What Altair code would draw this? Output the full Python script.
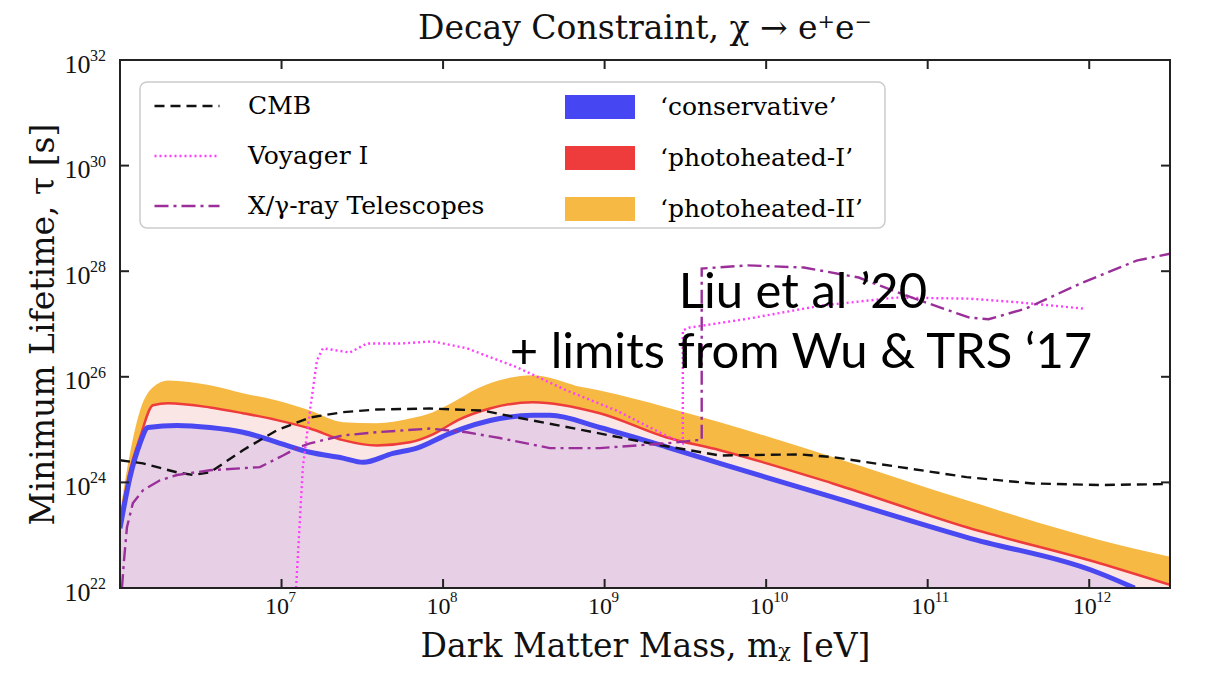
import altair as alt
import pandas as pd
import math

# ---- data (log10 of mass in eV, log10 of lifetime in s) ----
blue_lm = [6.0, 6.062, 6.124, 6.173, 6.353, 6.557, 6.761, 6.972, 7.176, 7.38, 7.504, 7.689, 7.838,
           8.042, 8.351, 8.556, 8.661, 8.97, 9.385, 9.713, 10.412, 11.241, 12.064, 12.281]
blue_lt = [23.13, 24.10, 24.74, 25.04, 25.08, 25.04, 24.95, 24.76, 24.57, 24.46, 24.38, 24.55, 24.65,
           24.93, 25.21, 25.27, 25.27, 25.04, 24.67, 24.36, 23.72, 22.96, 22.28, 22.0]

red_lm = [6.0, 6.062, 6.124, 6.204, 6.297, 6.557, 6.761, 6.972, 7.176, 7.38, 7.59, 7.795, 7.937,
          8.092, 8.29, 8.556, 8.97, 9.385, 9.713, 10.412, 11.241, 12.064, 12.5]
red_lt = [23.25, 24.23, 24.85, 25.46, 25.50, 25.42, 25.31, 25.18, 25.02, 24.80, 24.70, 24.76, 24.91,
          25.18, 25.40, 25.52, 25.31, 24.85, 24.61, 23.98, 23.15, 22.47, 22.06]

orange_lm = [6.0, 6.062, 6.124, 6.204, 6.297, 6.557, 6.761, 6.972, 7.176, 7.38, 7.59, 7.795, 7.937,
             8.08, 8.2, 8.333, 8.556, 8.865, 8.97, 9.385, 9.713, 10.412, 11.241, 12.064, 12.5]
orange_lt = [23.42, 24.55, 25.36, 25.80, 25.93, 25.84, 25.69, 25.55, 25.36, 25.14, 25.12, 25.21, 25.33,
             25.55, 25.76, 25.92, 26.03, 25.80, 25.74, 25.42, 25.14, 24.48, 23.66, 22.91, 22.59]

cmb_lm = [6.0, 6.142, 6.353, 6.452, 6.557, 6.761, 6.972, 7.176, 7.38, 7.59, 7.918, 8.246, 8.457,
          8.865, 9.28, 9.713, 10.208, 10.412, 10.827, 11.241, 11.65, 12.064, 12.5]
cmb_lt = [24.42, 24.36, 24.19, 24.14, 24.19, 24.61, 24.99, 25.23, 25.33, 25.38, 25.40, 25.36, 25.23,
          24.99, 24.74, 24.51, 24.53, 24.48, 24.29, 24.10, 23.98, 23.95, 23.97]

voy_lm = [7.09, 7.132, 7.176, 7.219, 7.256, 7.423, 7.528, 7.733, 7.937, 8.147, 8.457, 8.766, 9.075,
          9.28, 9.465, 9.484, 9.484, 9.521, 9.886, 10.344, 10.802, 11.26, 11.563, 11.971]
voy_lt = [22.0, 24.29, 25.36, 26.31, 26.54, 26.46, 26.63, 26.63, 26.67, 26.54, 26.18, 25.74, 25.36,
          25.04, 24.76, 24.74, 26.88, 26.93, 27.10, 27.35, 27.50, 27.48, 27.41, 27.29]

xray_lm = [6.012, 6.025, 6.043, 6.08, 6.142, 6.248, 6.353, 6.557, 6.761, 6.866, 7.009, 7.095, 7.176,
           7.38, 7.59, 7.918, 8.147, 8.351, 8.661, 8.97, 9.385, 9.571, 9.601, 9.601, 9.886, 10.233,
           10.573, 10.92, 11.26, 11.377, 11.606, 11.947, 12.293, 12.5]
xray_lt = [22.0, 22.53, 23.15, 23.61, 23.85, 24.04, 24.14, 24.23, 24.27, 24.29, 24.51, 24.65, 24.74,
           24.89, 24.95, 25.02, 24.95, 24.84, 24.65, 24.65, 24.74, 24.80, 24.80, 28.05, 28.11, 28.07,
           27.88, 27.48, 27.12, 27.09, 27.29, 27.77, 28.20, 28.33]

x_ticks = [1e7, 1e8, 1e9, 1e10, 1e11, 1e12]
y_ticks = [1e22, 1e24, 1e26, 1e28, 1e30, 1e32]

line_names = ["CMB", "Voyager I", "X/\u03b3-ray Telescopes"]
band_names = ["\u2018conservative\u2019", "\u2018photoheated-I\u2019", "\u2018photoheated-II\u2019"]

W, H = 1050, 528
SERIF = "Liberation Serif"
WSERIF = "DejaVu Serif"

def curve(lm, lt, **extra):
    df = pd.DataFrame({"m": [10 ** v for v in lm], "tau": [10 ** v for v in lt]})
    df["i"] = range(len(df))
    df["base"] = 1e22
    for k, v in extra.items():
        df[k] = v
    return df

XS = alt.Scale(type="log", domain=[1e6, 10 ** 12.5], nice=False)
YS = alt.Scale(type="log", domain=[1e22, 1e32], nice=False)

XA = alt.Axis(values=x_ticks, labelExpr="'10'", title="Dark Matter Mass, m\u1d6a [eV]",
              labelPadding=6, labelOffset=-5, labelFontSize=24, titlePadding=12, labelFlush=False)
YA = alt.Axis(values=y_ticks, labelExpr="'10'", title="Minimum Lifetime, \u03c4 [s]",
              labelPadding=30, labelOffset=4, labelFontSize=26, titlePadding=4, labelFlush=False)

def X(f):
    return alt.X(f, type="quantitative", scale=XS, axis=XA)

def Y(f):
    return alt.Y(f, type="quantitative", scale=YS, axis=YA)

FILL = alt.Fill("band:N",
                scale=alt.Scale(domain=band_names + ["below", "between"],
                                range=["#4646f2", "#ee3b3b", "#f5b944", "#e7d0e6", "#fbe6e6"]),
                legend=alt.Legend(values=band_names, title=None, orient="none", legendX=445, legendY=12,
                                  symbolType="M-1,-0.343H1V0.343H-1Z", symbolSize=4900,
                                  symbolStrokeWidth=0, symbolOpacity=1, labelFont=WSERIF,
                                  labelFontSize=25, labelOffset=25, rowPadding=3, labelLimit=500))

SMOOTH = "monotone"
area_orange = alt.Chart(curve(orange_lm, orange_lt, band=band_names[2])).mark_area(
    clip=True, interpolate=SMOOTH).encode(x=X("m"), y=Y("tau"), y2="base", fill=FILL)
area_pink = alt.Chart(curve(red_lm, red_lt, band="between")).mark_area(
    clip=True, interpolate=SMOOTH).encode(x=X("m"), y=Y("tau"), y2="base", fill=FILL)
area_lav = alt.Chart(curve(blue_lm, blue_lt, band="below")).mark_area(
    clip=True, interpolate=SMOOTH).encode(x=X("m"), y=Y("tau"), y2="base", fill=FILL)

red_line = alt.Chart(curve(red_lm, red_lt)).mark_line(
    clip=True, color="#ee3b3b", strokeWidth=2.5, interpolate=SMOOTH).encode(x=X("m"), y=Y("tau"), order="i:Q")
blue_line = alt.Chart(curve(blue_lm, blue_lt)).mark_line(
    clip=True, color="#4a48f0", strokeWidth=5, interpolate=SMOOTH).encode(x=X("m"), y=Y("tau"), order="i:Q")

lines_df = pd.concat([
    curve(cmb_lm, cmb_lt, series=line_names[0]),
    curve(voy_lm, voy_lt, series=line_names[1]),
    curve(xray_lm, xray_lt, series=line_names[2]),
], ignore_index=True)

LEG_LINES = alt.Legend(title=None, orient="none", legendX=33, legendY=12, symbolType="stroke",
                       symbolSize=4225, symbolStrokeWidth=2.4, labelFont=WSERIF, labelFontSize=25,
                       labelOffset=27, rowPadding=3, labelLimit=500)

other_lines = alt.Chart(lines_df).mark_line(clip=True, strokeWidth=2.4).encode(
    x=X("m"), y=Y("tau"), order="i:Q",
    color=alt.Color("series:N", scale=alt.Scale(domain=line_names, range=["#111111", "#ff3dff", "#9a2f9a"]),
                    legend=LEG_LINES),
    strokeDash=alt.StrokeDash("series:N", scale=alt.Scale(domain=line_names,
                              range=[[10, 6], [2, 3], [14, 5, 3, 5]]), legend=LEG_LINES),
    detail="series:N",
)

xt = pd.DataFrame({"v": x_ticks, "e": [str(round(math.log10(v))) for v in x_ticks]})
yt = pd.DataFrame({"v": y_ticks, "e": [str(round(math.log10(v))) for v in y_ticks]})
TK = dict(color="#222222", strokeWidth=2)
tick_b = alt.Chart(xt).mark_rule(**TK).encode(x=X("v"), y=alt.value(H), y2=alt.value(H - 9))
tick_t = alt.Chart(xt).mark_rule(**TK).encode(x=X("v"), y=alt.value(0), y2=alt.value(9))
tick_l = alt.Chart(yt).mark_rule(**TK).encode(y=Y("v"), x=alt.value(0), x2=alt.value(9))
tick_r = alt.Chart(yt).mark_rule(**TK).encode(y=Y("v"), x=alt.value(W), x2=alt.value(W - 9))

# exponents of the tick labels (10^n)
exp_x = alt.Chart(xt).mark_text(font=SERIF, fontSize=15, align="left", baseline="top", dx=7,
                                color="#111111").encode(x=X("v"), y=alt.value(H + 2), text="e:N")
exp_y = alt.Chart(yt).mark_text(font=SERIF, fontSize=16, align="left", baseline="middle", dy=-4,
                                color="#111111").encode(y=Y("v"), x=alt.value(-30), text="e:N")

one = pd.DataFrame({"a": [0]})
legend_box = alt.Chart(one).mark_rect(fill="white", stroke="#cccccc", strokeWidth=1.5, cornerRadius=7).encode(
    x=alt.value(20), x2=alt.value(765), y=alt.value(22), y2=alt.value(168))
frame = alt.Chart(one).mark_rect(filled=False, stroke="#222222", strokeWidth=2).encode(
    x=alt.value(0), x2=alt.value(W), y=alt.value(0), y2=alt.value(H))

note1 = alt.Chart(one).mark_text(text="Liu et al \u201920", font="Lato", fontSize=49, align="center",
                                 baseline="alphabetic", color="black").encode(x=alt.value(683), y=alt.value(248))
note2 = alt.Chart(one).mark_text(text="+ limits from Wu & TRS \u201817", font="Lato", fontSize=49,
                                 align="center", baseline="alphabetic", color="black").encode(
    x=alt.value(681), y=alt.value(308))

chart = alt.layer(
    area_orange, area_pink, area_lav, red_line, blue_line, other_lines,
    tick_b, tick_t, tick_l, tick_r, exp_x, exp_y, legend_box, frame, note1, note2,
).properties(
    width=W, height=H,
    autosize=alt.AutoSizeParams(type="none"),
    padding={"left": 120, "top": 60, "right": 47, "bottom": 88},
    title=alt.TitleParams("Decay Constraint,  \u03c7 \u2192 e\u207ae\u207b", font=WSERIF, fontSize=33,
                          fontWeight="normal", offset=2, color="#111111"),
).configure_view(stroke="transparent").configure_axis(
    ticks=False, domain=False, grid=False, labelFont=SERIF, labelColor="#111111",
    titleFont=WSERIF, titleFontSize=33, titleFontWeight="normal", titleColor="#111111",
)

chart.save("out.html", embed_options={"renderer": "svg", "actions": False})
